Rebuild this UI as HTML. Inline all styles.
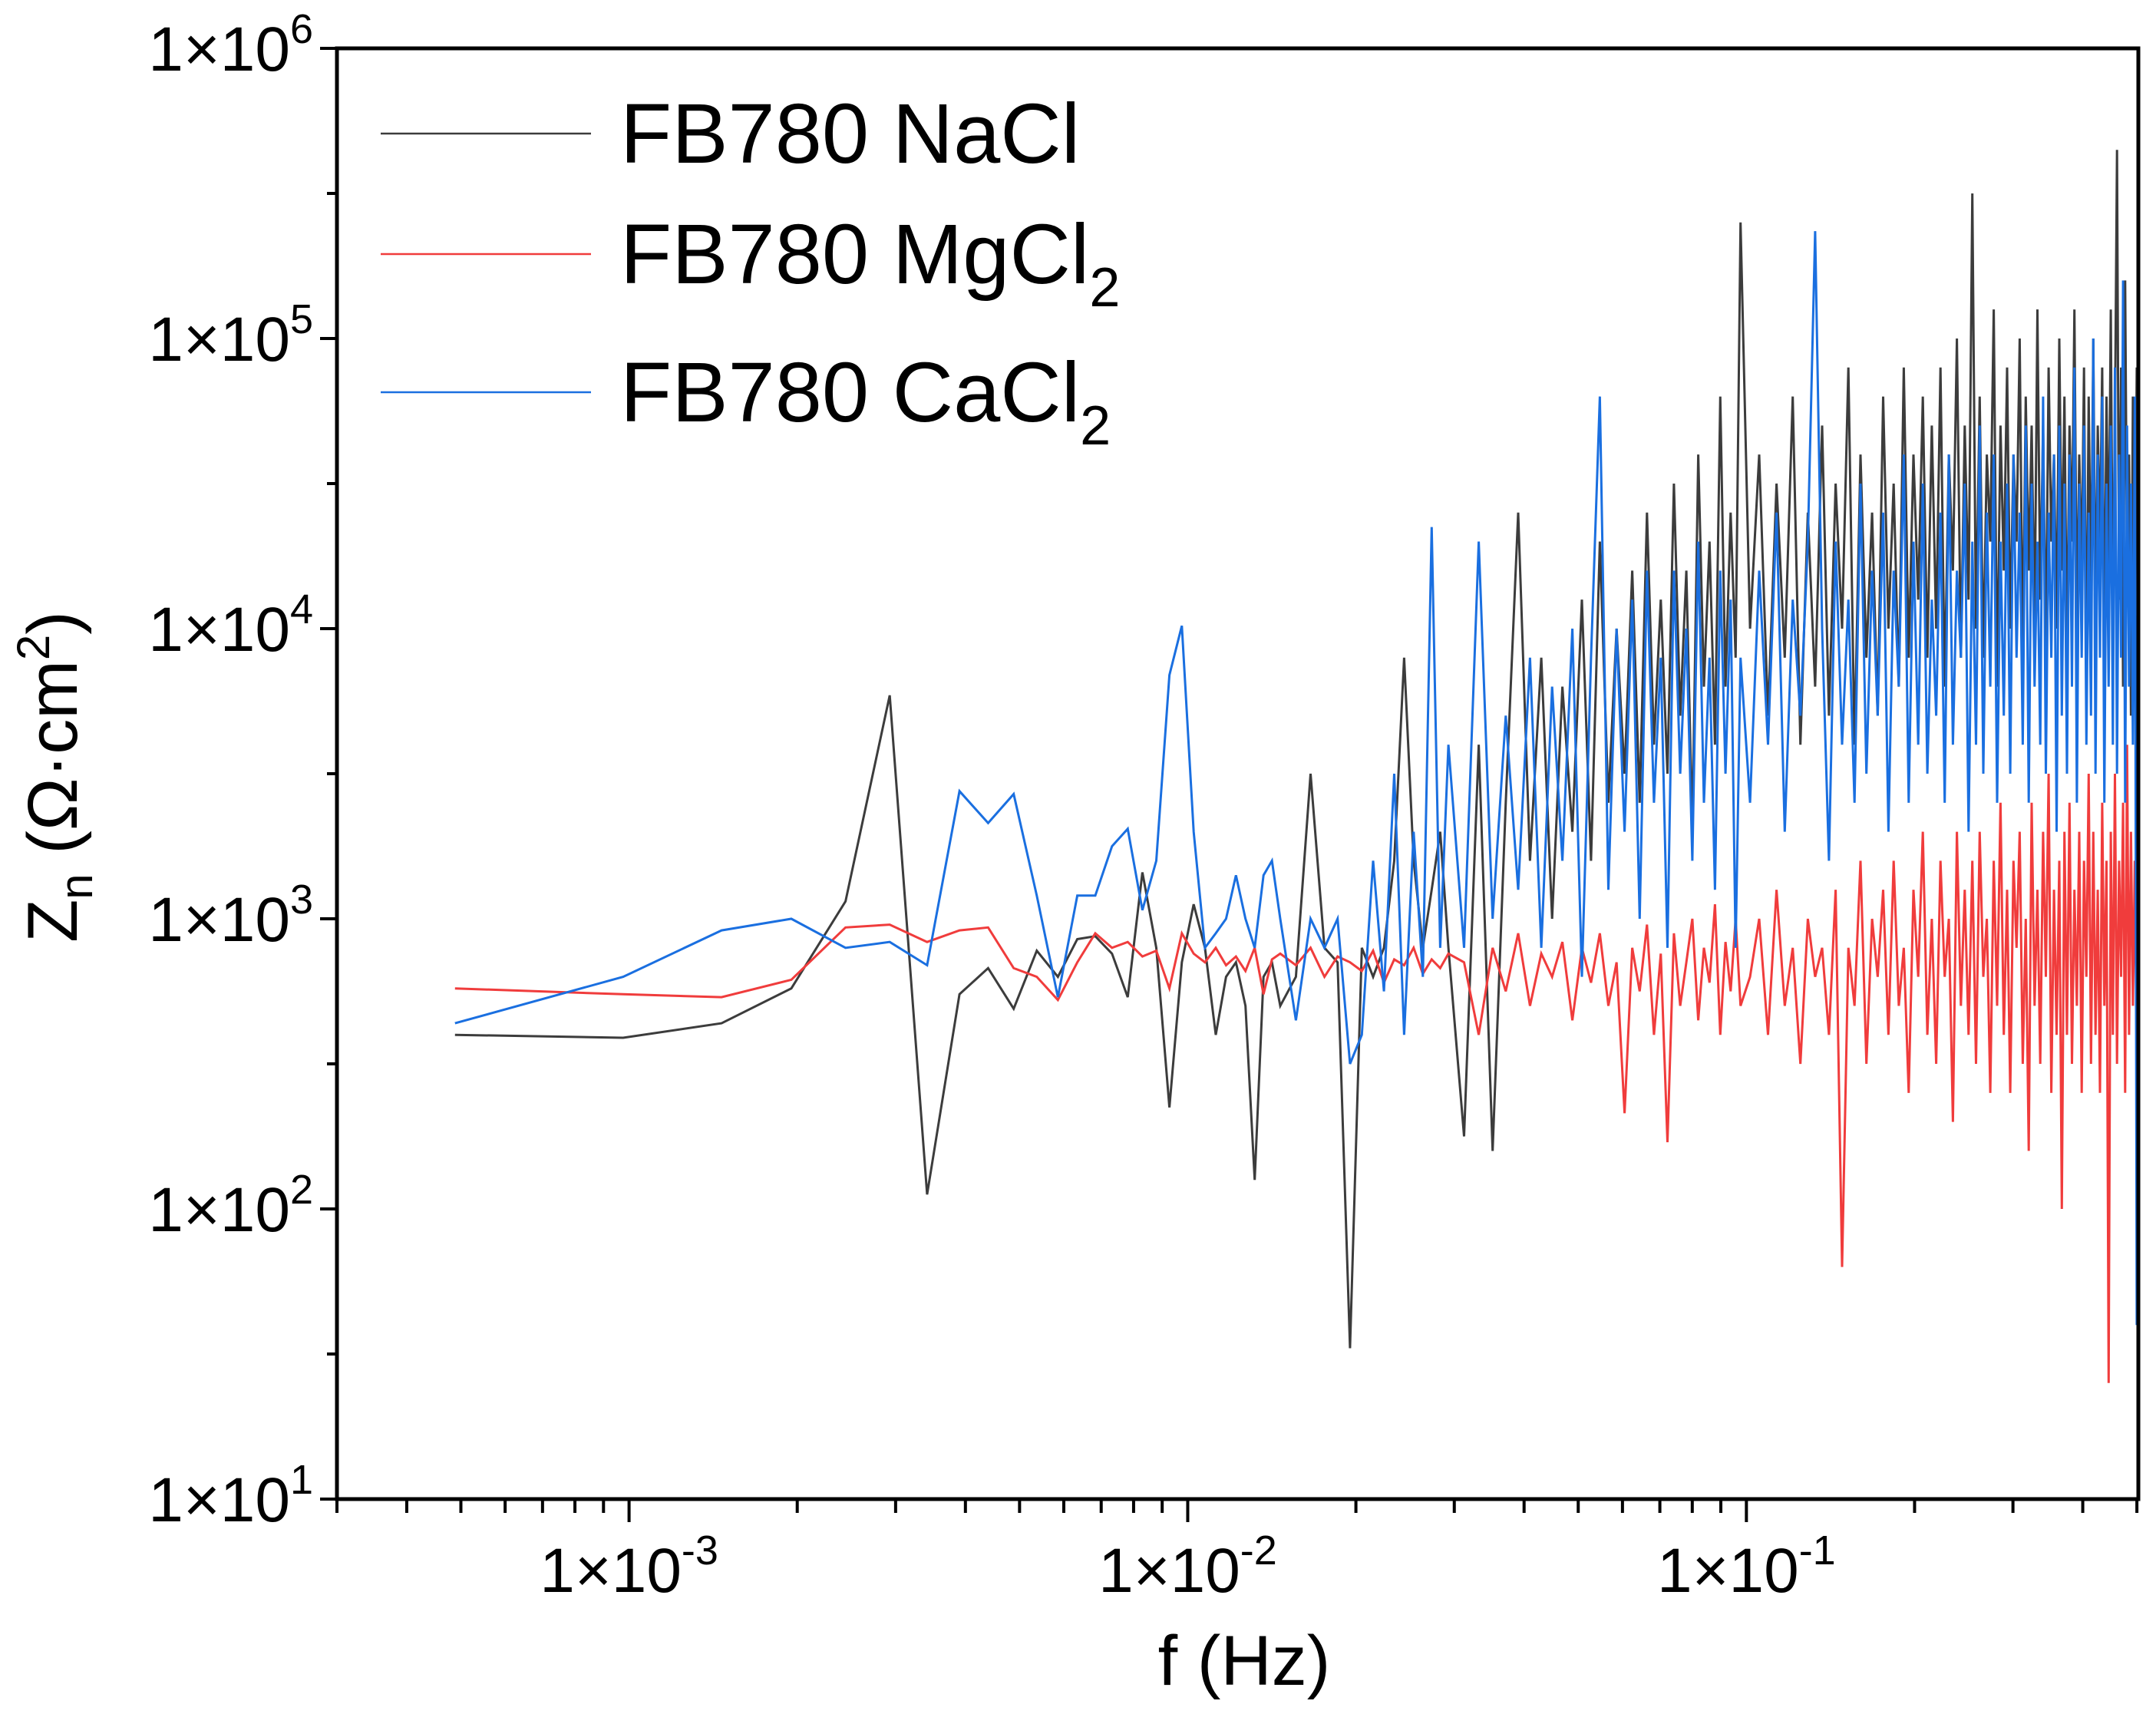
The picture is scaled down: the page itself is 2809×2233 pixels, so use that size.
<!DOCTYPE html>
<html><head><meta charset="utf-8"><style>
html,body{margin:0;padding:0;background:#fff;}
svg{display:block;font-family:"Liberation Sans",Arial,sans-serif;}
</style></head><body>
<svg id="chart" width="2809" height="2233" viewBox="0 0 2809 2233" xmlns="http://www.w3.org/2000/svg">
<rect width="2809" height="2233" fill="#fff"/>
<g id="series"></g>
<g id="axes"></g>
<g id="legend">
  <line x1="496" y1="174" x2="770" y2="174" stroke="#3c3c3c" stroke-width="2.5"/>
  <text x="808" y="212" font-size="110" fill="#000">FB780 NaCl</text>
  <line x1="496" y1="331" x2="770" y2="331" stroke="#f03c3c" stroke-width="2.5"/>
  <text x="808" y="369" font-size="110" fill="#000">FB780 MgCl<tspan font-size="72" dy="30">2</tspan></text>
  <line x1="496" y1="511" x2="770" y2="511" stroke="#1a6fe0" stroke-width="2.5"/>
  <text x="808" y="549" font-size="110" fill="#000">FB780 CaCl<tspan font-size="72" dy="30">2</tspan></text>
</g>
<text x="1621" y="2195" font-size="92" text-anchor="middle" fill="#000">f (Hz)</text>
<text transform="translate(100,1012) rotate(-90)" font-size="92" text-anchor="middle" fill="#000">Z<tspan font-size="60" dy="20">n</tspan><tspan dy="-20"> (Ω·cm</tspan><tspan font-size="60" dy="-36">2</tspan><tspan dy="36">)</tspan></text>
</svg>
<script>
// ---- data ----
const DF = 0.000488; // frequency resolution (Hz)
const kIndex = [1,2,3,4,5,6,7,8,9,10,11,12,13,14,15,16,17,18,19,20,21,22,23,24,25,26,27,28,29,30,
32,34,36,38,40,42,44,46,48,50,52,54,56,58,60,
64,68,72,76,80,84,88,92,96,100,104,108,112,116,120,124,128,132,136,140,144,148,152,156,160,164,168,172,176,180,184,188,192,196,200,
208,216,224,232,240,248,256,264,272,280,288,296,304,312,320,328,336,344,352,360,368,376,384,392,400,408,416,424,432,440,
448,456,464,472,480,488,496,504,512,520,528,536,544,552,560,568,576,584,592,600,608,616,624,632,640,648,656,664,672,680,
688,696,704,712,720,728,736,744,752,760,768,776,784,792,800,808,816,824,832,840,848,856,864,872,880,888,896,904,912,920,
928,936,944,952,960,968,976,984,992,1000,1008,1016,1024];
const naclLogZ = [2.60,2.59,2.64,2.76,3.06,3.77,2.05,2.74,2.83,2.69,2.89,2.80,2.93,2.94,2.88,2.73,3.16,2.9,2.35,2.85,
3.05,2.9,2.6,2.8,2.85,2.7,2.1,2.8,2.85,2.7, 2.8,3.5,2.9,2.85,1.52,2.9,2.8,2.9,3.2,3.9,3.2,2.9,3.1,3.3,2.9,
2.25,3.6,2.2,3.4,4.4,3.2,3.9,3.0,3.8,3.3,4.1,3.2,4.3,3.4,4.0,3.5,4.2,3.4,4.4,3.6,4.1,3.5,4.5,3.7,4.2,3.3,4.6,3.8,4.3,3.6,4.8,3.8,4.4,3.9,5.4,
4.0,4.6,3.7,4.5,3.9,4.8,3.6,4.4,3.8,4.7, 3.7,4.5,4.0,4.9,3.6,4.6,3.9,4.4,3.7,4.8, 4.0,4.5,3.8,4.9,3.9,4.6,4.1,4.8,3.9,4.7,
4.0,4.9,3.8,4.6,4.2,5.0,3.9,4.7,4.1,5.5, 4.0,4.8,3.9,4.6,4.3,5.1,3.8,4.7,4.2,4.9, 4.0,4.6,4.3,5.0,3.9,4.8,4.2,4.7,4.0,5.1,
4.1,4.7,3.9,4.9,4.3,4.6,4.0,5.0,4.2,4.8, 3.9,4.7,4.3,5.1,4.0,4.6,4.2,4.9,3.8,4.8, 4.1,5.0,4.0,4.7,4.3,4.9,3.9,4.8,4.2,5.1,
4.0,4.7,5.65,4.1,4.9,3.8,5.2,4.2,4.6,3.7, 4.8,4.0,4.9];
const mgcl2LogZ = [2.76,2.74,2.73,2.79,2.97,2.98,2.92,2.96,2.97,2.83,2.80,2.72,2.85,2.95,2.90,2.92,2.87,2.89,2.76,2.95,
2.88,2.85,2.9,2.84,2.87,2.82,2.9,2.74,2.86,2.88, 2.84,2.9,2.8,2.87,2.85,2.82,2.89,2.78,2.86,2.84,2.9,2.81,2.86,2.83,2.88,
2.85,2.6,2.9,2.75,2.95,2.7,2.88,2.8,2.92,2.65,2.9,2.78,2.95,2.7,2.85,2.33,2.9,2.75,2.98,2.6,2.88,2.23,2.95,2.7,2.85,3.0,2.65,2.9,2.78,3.05,2.6,2.92,2.75,3.0,2.7,
2.8,3.0,2.6,3.1,2.7,2.9,2.5,3.0,2.8,2.9, 2.6,3.1,1.8,2.9,2.7,3.2,2.5,3.0,2.8,3.1, 2.6,3.2,2.7,2.9,2.4,3.1,2.8,3.3,2.6,3.0,
2.5,3.2,2.8,3.0,2.3,3.3,2.7,3.1,2.6,3.2, 2.5,3.3,2.8,3.0,2.4,3.2,2.7,3.4,2.6,3.1, 2.4,3.2,2.9,3.3,2.5,3.0,2.2,3.4,2.7,3.1,
2.5,3.3,2.8,3.5,2.4,3.1,2.6,3.2,2.0,3.3, 2.6,3.4,2.5,3.1,2.7,3.3,2.4,3.2,2.8,3.5, 2.5,3.3,2.6,3.1,2.4,3.4,2.7,3.2,1.4,3.3,
2.6,3.5,2.5,3.2,2.8,3.4,2.4,3.6,2.6,3.3, 2.7,3.2,2.5];
const cacl2LogZ = [2.64,2.80,2.96,3.0,2.90,2.92,2.84,3.44,3.33,3.43,3.08,2.73,3.08,3.08,3.25,3.31,3.03,3.20,3.84,4.01,
3.3,2.9,2.95,3.0,3.15,3.0,2.9,3.15,3.2,3.0, 2.65,3.0,2.9,3.0,2.5,2.6,3.2,2.75,3.5,2.6,3.3,2.8,4.35,2.9,3.6,
2.9,4.3,3.0,3.7,3.1,3.9,2.9,3.8,3.2,4.0,2.8,3.9,4.8,3.1,4.0,3.3,4.1,3.0,4.2,3.4,3.9,2.9,4.2,3.5,4.0,3.2,4.3,3.4,3.9,3.1,4.2,3.5,4.1,2.9,3.9,
3.4,4.2,3.6,4.4,3.3,4.1,3.7,4.3,5.37,4.0, 3.2,4.3,3.6,4.1,3.4,4.5,3.5,4.2,3.7,4.4, 3.3,4.2,3.8,4.6,3.4,4.3,3.6,4.5,3.5,4.1,
3.7,4.4,3.4,4.6,3.6,4.2,3.9,4.5,3.3,4.3, 3.6,4.7,3.5,4.4,3.8,4.6,3.4,4.3,3.7,4.5, 3.5,4.6,3.9,4.4,3.6,4.7,3.4,4.5,3.8,4.3,
3.6,4.8,3.5,4.4,3.9,4.6,3.3,4.7,3.7,4.5, 3.5,4.6,3.8,4.9,3.4,4.5,3.9,4.7,3.6,4.4, 3.7,5.0,3.5,4.6,3.9,4.8,3.4,4.5,3.8,4.7,
3.6,4.9,3.5,4.6,3.9,5.2,3.4,4.7,3.8,4.5, 3.6,4.8,1.6];
const xTickExp = [-3,-2,-1];
const yTickExp = [1,2,3,4,5,6];

// ---- axes ----
const L=439,R=2786,T=63,B=1953;
const XMIN=Math.log10(3.0e-4), XMAX=Math.log10(0.503);
const YMIN=1, YMAX=6;
const xs = f => L + (Math.log10(f)-XMIN)/(XMAX-XMIN)*(R-L);
const ys = lz => B - (lz-YMIN)/(YMAX-YMIN)*(B-T);
const NS="http://www.w3.org/2000/svg";
const svg=document.getElementById('chart');
const sg=document.getElementById('series');
const ag=document.getElementById('axes');
function mk(tag,attrs,parent){const e=document.createElementNS(NS,tag);for(const k in attrs)e.setAttribute(k,attrs[k]);parent.appendChild(e);return e;}

function drawSeries(vals,color,name){
  let d='';
  for(let i=0;i<vals.length&&i<kIndex.length;i++){
    const x=xs(kIndex[i]*DF), y=ys(vals[i]);
    d+=(i?'L':'M')+x.toFixed(1)+' '+y.toFixed(1);
  }
  const p=mk('path',{d:d,fill:'none',stroke:color,'stroke-width':3,'stroke-linejoin':'miter'},sg);
  
  
}
drawSeries(naclLogZ,'#3c3c3c','series-nacl');
drawSeries(mgcl2LogZ,'#f03c3c','series-mgcl2');
drawSeries(cacl2LogZ,'#1a6fe0','series-cacl2');

// frame
const frame=mk('rect',{x:L,y:T,width:R-L,height:B-T,fill:'none',stroke:'#000','stroke-width':5},ag);



// x ticks
for(let e=-4;e<=0;e++){
  for(let m=1;m<=9;m++){
    const f=m*Math.pow(10,e);
    const lf=Math.log10(f);
    if(lf<XMIN-1e-9||lf>XMAX+1e-9)continue;
    const x=xs(f);
    const len=m===1?30:18;
    const t=mk('line',{x1:x,y1:B,x2:x,y2:B+len,stroke:'#000','stroke-width':4},ag);
    
    
  }
}
xTickExp.forEach(e=>{
  const x=xs(Math.pow(10,e));
  const t=mk('text',{x:x,y:2074,'font-size':82,'text-anchor':'middle',fill:'#000'},ag);
  
  
  t.innerHTML='1×10<tspan font-size="54" dy="-36">'+e+'</tspan>';
});
// y ticks
yTickExp.forEach(e=>{
  const y=ys(e);
  const t=mk('line',{x1:L-22,y1:y,x2:L,y2:y,stroke:'#000','stroke-width':4},ag);
  
  
  if(e<YMAX){
    const m=mk('line',{x1:L-13,y1:ys(e+0.5),x2:L,y2:ys(e+0.5),stroke:'#000','stroke-width':4},ag);
    
    
  }
  const lb=mk('text',{x:408,y:y+29,'font-size':82,'text-anchor':'end',fill:'#000'},ag);
  
  
  lb.innerHTML='1×10<tspan font-size="54" dy="-36">'+e+'</tspan>';
});
</script>
</body></html>
